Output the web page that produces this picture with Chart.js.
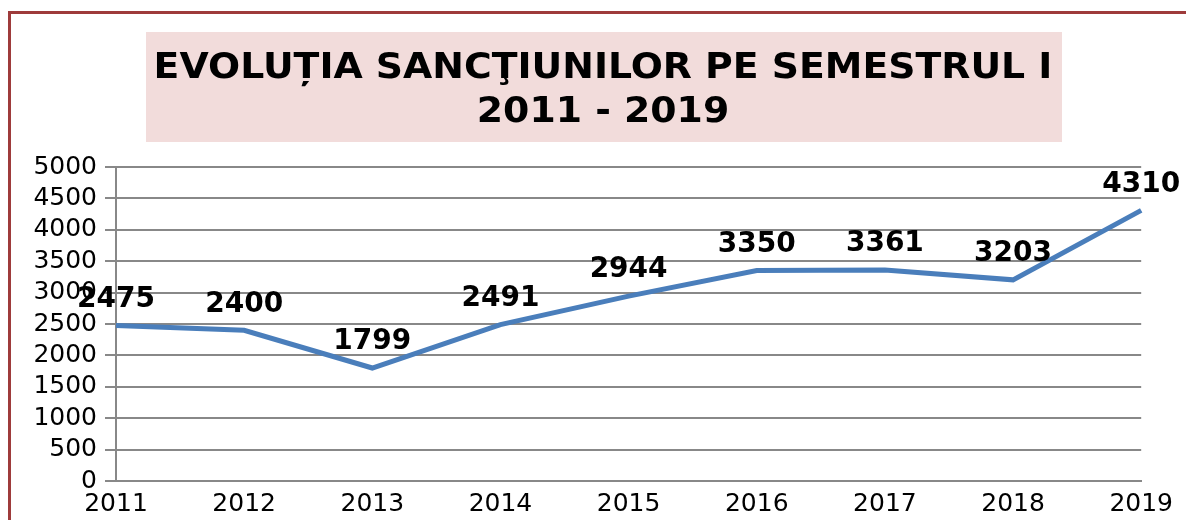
<!DOCTYPE html>
<html>
<head>
<meta charset="utf-8">
<script src="https://cdn.jsdelivr.net/npm/chart.js@4/dist/chart.umd.min.js"></script>
<style>
  body { margin: 0; background: #fff; }
  #wrap { width: 1186px; height: 520px; }
</style>
</head>
<body>
<div id="wrap"><canvas id="myChart" width="1186" height="520"></canvas></div>
<script>
// date
var years = ["2011", "2012", "2013", "2014", "2015", "2016", "2017", "2018", "2019"];
var sanctiuni = [2475, 2400, 1799, 2491, 2944, 3350, 3361, 3203, 4310];
var titleLines = ["EVOLU\u021AIA SANC\u0162IUNILOR PE SEMESTRUL I", "2011 - 2019"];
var yMax = 5000;
var yStep = 500;

/******************** chenar + titlu ********************/
var frameAndTitle = {
  id: "frameAndTitle",
  beforeDraw: function(chart) {
    var ctx = chart.ctx;
    ctx.save();
    ctx.fillStyle = "#ffffff";
    ctx.fillRect(0, 0, chart.width, chart.height);
    ctx.strokeStyle = "#9e3b3b";
    ctx.lineWidth = 3;
    ctx.strokeRect(9.5, 12.5, chart.width + 20, chart.height + 20);
    ctx.fillStyle = "#f2dcdb";
    ctx.fillRect(146, 32, 916, 110);
    // titlul e putin latit pe orizontala, ca in original
    ctx.translate(603, 0);
    ctx.scale(1.05, 1);
    ctx.fillStyle = "#000000";
    ctx.font = "bold 36px 'DejaVu Sans'";
    ctx.textAlign = "center";
    ctx.textBaseline = "alphabetic";
    ctx.fillText(titleLines[0], 0, 78);
    ctx.fillText(titleLines[1], 0, 122);
    ctx.restore();
  }
};

/******************** etichete valori ********************/
var valueLabels = {
  id: "valueLabels",
  afterDatasetsDraw: function(chart) {
    var ctx = chart.ctx;
    var meta = chart.getDatasetMeta(0);
    ctx.save();
    ctx.fillStyle = "#000000";
    ctx.font = "bold 28px 'DejaVu Sans'";
    ctx.textAlign = "center";
    ctx.textBaseline = "middle";
    meta.data.forEach(function(pt, i) {
      ctx.fillText(String(chart.data.datasets[0].data[i]), pt.x, pt.y - 26);
    });
    ctx.restore();
  }
};

new Chart("myChart", {
  type: "line",
  data: {
    labels: years,
    datasets: [{
      data: sanctiuni,
      borderColor: "#4a7ebb",
      borderWidth: 5,
      pointRadius: 0,
      tension: 0,
      clip: false
    }]
  },
  options: {
    responsive: false,
    animation: false,
    layout: { padding: { left: 30, right: 44, top: 167, bottom: 0 } },
    plugins: {
      legend: { display: false },
      title: { display: false },
      tooltip: { enabled: false }
    },
    scales: {
      x: {
        offset: false,
        afterFit: function(scale) { scale.height = 39; },
        grid: { display: false, drawTicks: false },
        border: { color: "#888888", width: 2 },
        ticks: {
          color: "#000000",
          font: { family: "'DejaVu Sans'", size: 25, lineHeight: 0.8 },
          padding: 13,
          maxRotation: 0,
          autoSkip: false
        }
      },
      y: {
        min: 0,
        max: yMax,
        afterFit: function(scale) { scale.width = 86; },
        grid: { color: "#888888", lineWidth: 2, tickLength: 11 },
        border: { color: "#888888", width: 2 },
        ticks: {
          stepSize: yStep,
          color: "#000000",
          font: { family: "'DejaVu Sans'", size: 25 },
          padding: 8,
          autoSkip: false,
          callback: function(v) { return String(v); }
        }
      }
    }
  },
  plugins: [frameAndTitle, valueLabels]
});
</script>
</body>
</html>
